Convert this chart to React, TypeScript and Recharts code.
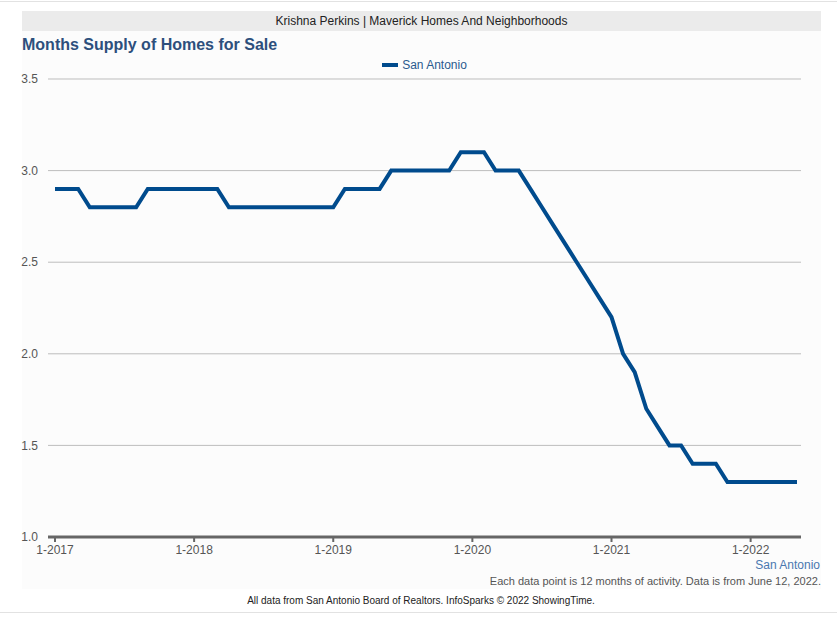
import React from "react";
import { LineChart, Line, XAxis, YAxis, CartesianGrid } from "recharts";

const months: string[] = [];
for (let y = 2017; y <= 2022; y++) {
  for (let m = 1; m <= 12; m++) {
    if (y === 2022 && m > 5) break;
    months.push(`${m}-${y}`);
  }
}

const sanAntonio: number[] = [
  // 2017
  2.9, 2.9, 2.9, 2.8, 2.8, 2.8, 2.8, 2.8, 2.9, 2.9, 2.9, 2.9,
  // 2018
  2.9, 2.9, 2.9, 2.8, 2.8, 2.8, 2.8, 2.8, 2.8, 2.8, 2.8, 2.8,
  // 2019
  2.8, 2.9, 2.9, 2.9, 2.9, 3.0, 3.0, 3.0, 3.0, 3.0, 3.0, 3.1,
  // 2020
  3.1, 3.1, 3.0, 3.0, 3.0, 2.9, 2.8, 2.7, 2.6, 2.5, 2.4, 2.3,
  // 2021
  2.2, 2.0, 1.9, 1.7, 1.6, 1.5, 1.5, 1.4, 1.4, 1.4, 1.3, 1.3,
  // 2022
  1.3, 1.3, 1.3, 1.3, 1.3,
];

const yTicks = [1.0, 1.5, 2.0, 2.5, 3.0, 3.5];

const data = months.map((m, i) => ({ month: m, value: sanAntonio[i] }));

const FONT = '"Liberation Sans", Arial, Helvetica, sans-serif';
const LINE_COLOR = "#004b8d";

export default function App() {
  return (
    <div style={{ position: "absolute", left: 0, top: 0, width: 837, height: 617, background: "#fff", fontFamily: FONT }}>
      <div style={{ position: "absolute", left: 0, top: 1, width: 837, height: 1, background: "#e2e2e2" }} />
      <div style={{ position: "absolute", left: 22, top: 31, width: 799, height: 558, background: "#fcfcfc" }} />
      <div style={{ position: "absolute", left: 22, top: 11, width: 799, height: 20, background: "#ebebeb", display: "flex", alignItems: "center", justifyContent: "center", fontSize: 12, color: "#222" }}>
        Krishna Perkins | Maverick Homes And Neighborhoods
      </div>
      <div style={{ position: "absolute", left: 22, top: 36, fontSize: 16, fontWeight: "bold", color: "#2d4f7c" }}>
        Months Supply of Homes for Sale
      </div>
      <div style={{ position: "absolute", left: 0, top: 58, width: 849, display: "flex", justifyContent: "center", alignItems: "center" }}>
        <span style={{ display: "inline-block", width: 16, height: 4, background: LINE_COLOR, marginRight: 4 }} />
        <span style={{ fontSize: 12, color: "#2b5a8e" }}>San Antonio</span>
      </div>
      <div style={{ position: "absolute", left: 0, top: 0 }}>
        <LineChart width={837} height={617} data={data} margin={{ top: 79, right: 36, bottom: 50, left: 0 }}>
          <CartesianGrid vertical={false} stroke="#bdbdbd" strokeWidth={1} />
          <XAxis
            dataKey="month"
            interval={11}
            height={30}
            padding={{ left: 7, right: 4 }}
            stroke="#666"
            strokeWidth={3}
            tickSize={5}
            tickMargin={3}
            tick={{ fill: "#555", fontSize: 12, fontFamily: FONT }}
            tickLine={{ stroke: "#666", strokeWidth: 2 }}
          />
          <YAxis
            width={48}
            domain={[1, 3.5]}
            ticks={yTicks}
            tickFormatter={(v: number) => v.toFixed(1)}
            axisLine={false}
            tickLine={false}
            tickMargin={4}
            tick={{ fill: "#555", fontSize: 12, fontFamily: FONT }}
          />
          <Line
            dataKey="value"
            name="San Antonio"
            type="linear"
            stroke={LINE_COLOR}
            strokeWidth={4}
            dot={false}
            activeDot={false}
            isAnimationActive={false}
          />
        </LineChart>
      </div>
      <div style={{ position: "absolute", right: 17, top: 558, fontSize: 12, color: "#4a78b0" }}>San Antonio</div>
      <div style={{ position: "absolute", right: 16, top: 575, fontSize: 11, color: "#555" }}>
        Each data point is 12 months of activity. Data is from June 12, 2022.
      </div>
      <div style={{ position: "absolute", left: 0, width: 842, top: 595, textAlign: "center", fontSize: 10, color: "#222" }}>
        All data from San Antonio Board of Realtors. InfoSparks © 2022 ShowingTime.
      </div>
      <div style={{ position: "absolute", left: 0, top: 612, width: 837, height: 1, background: "#e2e2e2" }} />
    </div>
  );
}
